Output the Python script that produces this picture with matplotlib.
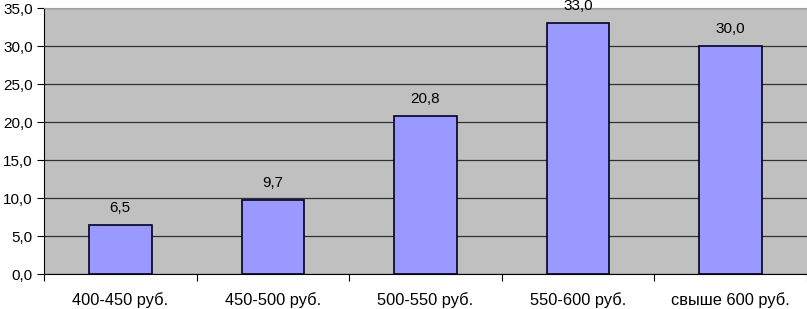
import numpy as np
import matplotlib.pyplot as plt

categories = ['400-450 руб.', '450-500 руб.', '500-550 руб.', '550-600 руб.', 'свыше 600 руб.']
values = [6.5, 9.7, 20.8, 33.0, 30.0]
yticks = [0, 5, 10, 15, 20, 25, 30, 35]

plt.rcParams['font.family'] = ['Liberation Sans', 'DejaVu Sans']

fig = plt.figure(figsize=(8.07, 3.09), dpi=100)
ax = fig.add_axes([44 / 807, 35 / 309, 763 / 807, 266 / 309])
ax.set_facecolor('#C0C0C0')

x = np.arange(len(categories))
ax.bar(x, values, width=0.41, color='#9999FF', edgecolor='#000020', linewidth=1.2, zorder=3)
for xi, v in zip(x, values):
    ax.text(xi, v + 1.3, f'{v:.1f}'.replace('.', ','), ha='center', va='bottom', fontsize=11)

ax.set_xlim(-0.5, len(categories) - 0.5)
ax.set_ylim(0, 35)
ax.set_yticks(yticks)
ax.set_yticklabels([f'{t:.1f}'.replace('.', ',') for t in yticks], fontsize=11)
ax.yaxis.grid(True, color='#303030', linewidth=0.9, zorder=1)

ax.set_xticks(x)
ax.set_xticklabels(categories, fontsize=11.8)
ax.tick_params(axis='x', length=0, pad=13)
ax.set_xticks(np.arange(len(categories) + 1) - 0.5, minor=True)
ax.tick_params(axis='x', which='minor', length=5, width=0.8, direction='out')
ax.tick_params(axis='y', length=5, width=0.8, direction='out', pad=3)

ax.spines['right'].set_visible(False)
ax.spines['top'].set_color('#A0A0A0')
ax.spines['left'].set_color('black')
ax.spines['bottom'].set_color('black')

plt.savefig('out.png', dpi=100)
